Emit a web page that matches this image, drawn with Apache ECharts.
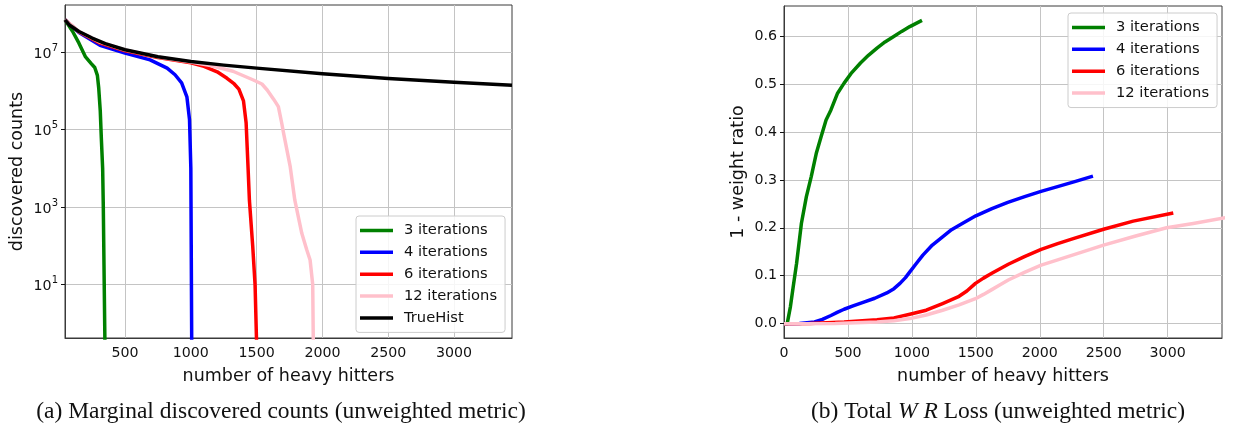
<!DOCTYPE html>
<html>
<head>
<meta charset="utf-8">
<script src="https://cdn.jsdelivr.net/npm/echarts@6/dist/echarts.min.js"></script>
<style>
html,body{margin:0;padding:0;background:#fff;}
#c{width:1233px;height:432px;}
</style>
</head>
<body>
<div id="c"></div>
<script>
// ---- Data ----
const seriesNames = ['3 iterations', '4 iterations', '6 iterations', '12 iterations', 'TrueHist'];
const seriesColors = ['#008000', '#0000ff', '#ff0000', '#ffc0cb', '#000000'];

// (a) Marginal discovered counts: [heavy hitters, count]
const marginal3 = [[44,6.8e7],[100,3.5e7],[150,1.7e7],[200,7.5e6],[240,5.2e6],[270,4.0e6],[290,2.5e6],[300,1.2e6],[312,3e5],[320,6e4],[330,1e4],[335,1e3],[342,10],[348,0.2]];
const marginal4 = [[44,6.8e7],[150,3.2e7],[310,1.5e7],[500,9.4e6],[690,6.3e6],[820,3.85e6],[880,2.6e6],[930,1.6e6],[970,7e5],[990,1.8e5],[1000,1e4],[1003,1e2],[1007,0.2]];
const marginal6 = [[44,6.8e7],[150,3.3e7],[310,1.7e7],[500,1.08e7],[750,7.2e6],[1000,5.3e6],[1100,4.3e6],[1200,3.1e6],[1275,2.1e6],[1330,1.5e6],[1365,1.1e6],[1400,5.5e5],[1420,1.5e5],[1435,1e4],[1445,1.5e3],[1470,1e2],[1488,10],[1501,0.2]];
const marginal12 = [[44,6.8e7],[150,3.4e7],[310,1.8e7],[500,1.13e7],[750,7.5e6],[1000,5.5e6],[1150,4.5e6],[1320,3.2e6],[1475,1.9e6],[1540,1.5e6],[1580,1.05e6],[1630,6e5],[1665,3.9e5],[1690,1.5e5],[1705,8e4],[1755,1.1e4],[1790,1.5e3],[1843,2.1e2],[1880,80],[1906,43],[1926,10],[1931,0.2]];
const trueHist = [[44,6.8e7],[80,4.9e7],[150,3.4e7],[250,2.3e7],[350,1.65e7],[500,1.15e7],[750,7.6e6],[1000,5.7e6],[1250,4.6e6],[1500,3.85e6],[2000,2.75e6],[2500,2.07e6],[3000,1.67e6],[3440,1.4e6]];

// (b) Total WR loss: [heavy hitters, 1 - weight ratio]
const loss3 = [[0,0],[25,0],[33,0.002],[50,0.035],[72,0.077],[98,0.125],[136,0.209],[175,0.265],[213,0.307],[252,0.355],[290,0.39],[329,0.425],[367,0.446],[419,0.481],[470,0.502],[530,0.524],[598,0.544],[660,0.56],[727,0.575],[790,0.588],[855,0.599],[920,0.61],[984,0.62],[1079,0.633]];
const loss4 = [[0,0],[120,0.0005],[239,0.0035],[300,0.009],[367,0.017],[420,0.024],[470,0.03],[540,0.037],[624,0.045],[710,0.053],[804,0.064],[860,0.073],[907,0.084],[950,0.096],[984,0.108],[1030,0.124],[1086,0.143],[1160,0.164],[1240,0.181],[1310,0.196],[1394,0.209],[1500,0.225],[1626,0.24],[1750,0.253],[1882,0.265],[2010,0.276],[2139,0.286],[2280,0.297],[2416,0.308]];
const loss6 = [[0,0],[200,0.0005],[470,0.0035],[727,0.008],[860,0.012],[984,0.0195],[1112,0.028],[1240,0.042],[1369,0.057],[1430,0.068],[1497,0.084],[1560,0.095],[1625,0.105],[1754,0.124],[1880,0.14],[2011,0.155],[2140,0.167],[2268,0.178],[2499,0.197],[2731,0.214],[3044,0.231]];
const loss12 = [[0,0],[400,0.0005],[727,0.0035],[860,0.006],[984,0.0105],[1112,0.018],[1240,0.028],[1369,0.039],[1497,0.052],[1560,0.061],[1625,0.071],[1690,0.081],[1754,0.091],[1880,0.107],[2011,0.122],[2140,0.133],[2268,0.144],[2499,0.164],[2750,0.183],[2992,0.2],[3200,0.209],[3450,0.221]];

// tick labels
const xTicks = [500, 1000, 1500, 2000, 2500, 3000];
const xTicksB = [0, 500, 1000, 1500, 2000, 2500, 3000];
const yTicksA = [10, 1000, 100000, 10000000];
const yTicksB = [0, 0.1, 0.2, 0.3, 0.4, 0.5, 0.6];

const captionA = '(a) Marginal discovered counts (unweighted metric)';
const captionB = ['(b) Total ', 'W R', ' Loss (unweighted metric)'];

// ---- Chart ----
const FONT = 'DejaVu Sans';
const gridColor = '#c4c4c4';
const frameColor = '#3a3a3a';
const TICK_FS = 14.2;

function axisCommon() {
  return {
    axisLine: {show: true, onZero: false, lineStyle: {color: frameColor, width: 1}},
    splitLine: {show: true, lineStyle: {color: gridColor, width: 1}},
    nameTextStyle: {fontFamily: FONT, fontSize: 17.5, color: '#111'},
  };
}

const chart = echarts.init(document.getElementById('c'), null, {renderer: 'canvas'});

const legendCommon = {
  orient: 'vertical',
  icon: 'rect',
  itemWidth: 33,
  itemHeight: 3.5,
  itemGap: 6.85,
  padding: [7, 8, 7, 4],
  borderColor: '#cccccc',
  borderWidth: 1,
  borderRadius: 3,
  backgroundColor: 'rgba(255,255,255,0.85)',
  textStyle: {fontFamily: FONT, fontSize: 14.7, color: '#111', lineHeight: 14, padding: [0, 0, 0, 6]},
  selectedMode: false
};

const mkSeries = (name, data, idx, color) => ({
  name: name, type: 'line', data: data, xAxisIndex: idx, yAxisIndex: idx,
  showSymbol: false, symbol: 'none', clip: true,
  lineStyle: {color: color, width: 3.5, join: 'round'}, itemStyle: {color: color}
});

const option = {
  animation: false,
  backgroundColor: '#fff',
  title: [
    {text: captionA, left: 276, top: 395, textAlign: 'center',
     textStyle: {fontFamily: 'Liberation Serif', fontSize: 23.5, fontWeight: 'normal', color: '#111'}},
    {text: captionB[0] + '{i|' + captionB[1] + '}' + captionB[2], left: 993, top: 395, textAlign: 'center',
     textStyle: {fontFamily: 'Liberation Serif', fontSize: 23.5, fontWeight: 'normal', color: '#111',
       rich: {i: {fontFamily: 'Liberation Serif', fontSize: 23.5, fontStyle: 'italic', color: '#111'}}}}
  ],
  grid: [
    {left: 65, right: 721, top: 5, bottom: 94, show: true, borderColor: frameColor, borderWidth: 1, backgroundColor: 'transparent'},
    {left: 784, right: 11, top: 6, bottom: 94, show: true, borderColor: frameColor, borderWidth: 1, backgroundColor: 'transparent'}
  ],
  legend: [
    Object.assign({}, legendCommon, {data: seriesNames, left: 356, top: 216}),
    Object.assign({}, legendCommon, {data: seriesNames.slice(0, 4), left: 1068, top: 13})
  ],
  xAxis: [
    Object.assign(axisCommon(), {
      type: 'value', gridIndex: 0, min: 44, max: 3440,
      name: 'number of heavy hitters', nameLocation: 'middle', nameGap: 29,
      axisTick: {show: false, customValues: xTicks},
      axisLabel: {customValues: xTicks, margin: 8, fontFamily: FONT, fontSize: TICK_FS, color: '#111',
        formatter: v => String(v)}
    }),
    Object.assign(axisCommon(), {
      type: 'value', gridIndex: 1, min: 0, max: 3425,
      name: 'number of heavy hitters', nameLocation: 'middle', nameGap: 29,
      axisTick: {show: false, customValues: xTicksB},
      axisLabel: {customValues: xTicksB, margin: 8, fontFamily: FONT, fontSize: TICK_FS, color: '#111',
        formatter: v => String(v)}
    })
  ],
  yAxis: [
    Object.assign(axisCommon(), {
      type: 'log', gridIndex: 0, min: 0.417, max: 1.64e8, logBase: 10,
      name: 'discovered counts', nameLocation: 'middle', nameGap: 39,
      axisTick: {show: true, length: 4, inside: false, customValues: yTicksA, lineStyle: {color: '#111'}},
      minorTick: {show: false}, minorSplitLine: {show: false},
      axisLabel: {customValues: yTicksA, margin: 7, fontFamily: FONT, fontSize: TICK_FS, color: '#111',
        formatter: function (v) {
          const e = String(Math.round(Math.log10(v)));
          return '{b|10}{s|' + e + '}';
        },
        rich: {
          b: {fontFamily: FONT, fontSize: TICK_FS, color: '#111', lineHeight: 18, verticalAlign: 'bottom'},
          s: {fontFamily: FONT, fontSize: 10, color: '#111', lineHeight: 9, verticalAlign: 'top'}
        }}
    }),
    Object.assign(axisCommon(), {
      type: 'value', gridIndex: 1, min: -0.03, max: 0.663,
      name: '1 - weight ratio', nameLocation: 'middle', nameGap: 37,
      axisTick: {show: true, length: 4, inside: false, customValues: yTicksB, lineStyle: {color: '#111'}},
      axisLabel: {customValues: yTicksB, margin: 7, fontFamily: FONT, fontSize: TICK_FS, color: '#111',
        formatter: v => Number(v).toFixed(1)}
    })
  ],
  series: [
    mkSeries(seriesNames[0], marginal3, 0, seriesColors[0]),
    mkSeries(seriesNames[1], marginal4, 0, seriesColors[1]),
    mkSeries(seriesNames[2], marginal6, 0, seriesColors[2]),
    mkSeries(seriesNames[3], marginal12, 0, seriesColors[3]),
    mkSeries(seriesNames[4], trueHist, 0, seriesColors[4]),
    mkSeries(seriesNames[0], loss3, 1, seriesColors[0]),
    mkSeries(seriesNames[1], loss4, 1, seriesColors[1]),
    mkSeries(seriesNames[2], loss6, 1, seriesColors[2]),
    mkSeries(seriesNames[3], loss12, 1, seriesColors[3])
  ]
};
chart.setOption(option);
</script>
</body>
</html>
